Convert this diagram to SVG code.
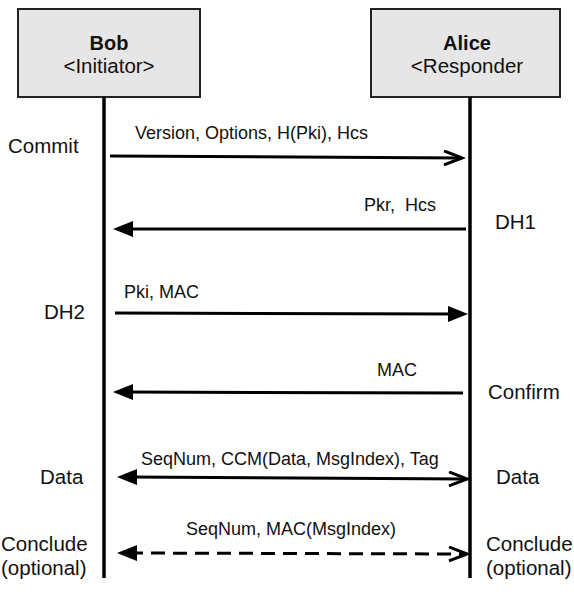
<svg xmlns="http://www.w3.org/2000/svg" width="574" height="603" viewBox="0 0 574 603">
<style>
text{font-family:"Liberation Sans",Arial,sans-serif;fill:#111}
.box{fill:#e6e6e6;stroke:#222;stroke-width:2}
.title{font-size:20px;font-weight:bold;text-anchor:middle}
.role{font-size:20.5px;text-anchor:middle}
.side{font-size:20.5px}
.msg{font-size:18px;white-space:pre}
.life{stroke:#000;stroke-width:3.5;fill:none}
.arr{stroke:#000;stroke-width:3;fill:none}
.dash{stroke-dasharray:14 8}
</style>
<defs>
<marker id="tri" markerUnits="userSpaceOnUse" markerWidth="22" markerHeight="18" refX="8" refY="8" orient="auto-start-reverse" viewBox="0 0 22 18">
<path d="M0,0 L20,8 L0,16 z" fill="#000"/>
</marker>
<marker id="chev" markerUnits="userSpaceOnUse" markerWidth="22" markerHeight="18" refX="19" refY="8" orient="auto-start-reverse" viewBox="0 0 22 18">
<path d="M1,1 L19,8 L1,15" fill="none" stroke="#000" stroke-width="3"/>
</marker>
</defs>
<g id="bob">
<rect class="box" x="18" y="9" width="182" height="88"/>
<text class="title" x="109" y="50">Bob</text>
<text class="role" x="109" y="73">&lt;Initiator&gt;</text>
<line class="life" x1="104" y1="97" x2="104" y2="578"/>
</g>
<g id="alice">
<rect class="box" x="371" y="9" width="189" height="88"/>
<text class="title" x="467" y="50">Alice</text>
<text class="role" x="467" y="73">&lt;Responder</text>
<line class="life" x1="470" y1="97" x2="470" y2="578"/>
</g>
<g id="connectors">
<line class="arr" x1="110" y1="156" x2="462" y2="158" marker-end="url(#chev)"/>
<line class="arr" x1="466" y1="229" x2="125" y2="229" marker-end="url(#tri)"/>
<line class="arr" x1="115" y1="313" x2="456" y2="314" marker-end="url(#tri)"/>
<line class="arr" x1="463" y1="393" x2="125" y2="392" marker-end="url(#tri)"/>
<line class="arr" x1="129" y1="477" x2="467" y2="479" marker-start="url(#tri)" marker-end="url(#chev)"/>
<line class="arr dash" x1="129" y1="553" x2="467" y2="554" marker-start="url(#tri)" marker-end="url(#chev)"/>
</g>
<g id="labels">
<text class="msg" x="135" y="139">Version, Options, H(Pki), Hcs</text>
<text class="msg" x="364" y="211">Pkr,  Hcs</text>
<text class="msg" x="124" y="298">Pki, MAC</text>
<text class="msg" x="377" y="376">MAC</text>
<text class="msg" x="141" y="465">SeqNum, CCM(Data, MsgIndex), Tag</text>
<text class="msg" x="186" y="535">SeqNum, MAC(MsgIndex)</text>
<text class="side" x="8" y="153">Commit</text>
<text class="side" x="495" y="229">DH1</text>
<text class="side" x="44" y="319">DH2</text>
<text class="side" x="488" y="399">Confirm</text>
<text class="side" x="40" y="484">Data</text>
<text class="side" x="496" y="484">Data</text>
<text class="side" x="1" y="551">Conclude</text>
<text class="side" x="1" y="575">(optional)</text>
<text class="side" x="486" y="551">Conclude</text>
<text class="side" x="486" y="575">(optional)</text>
</g>
</svg>
